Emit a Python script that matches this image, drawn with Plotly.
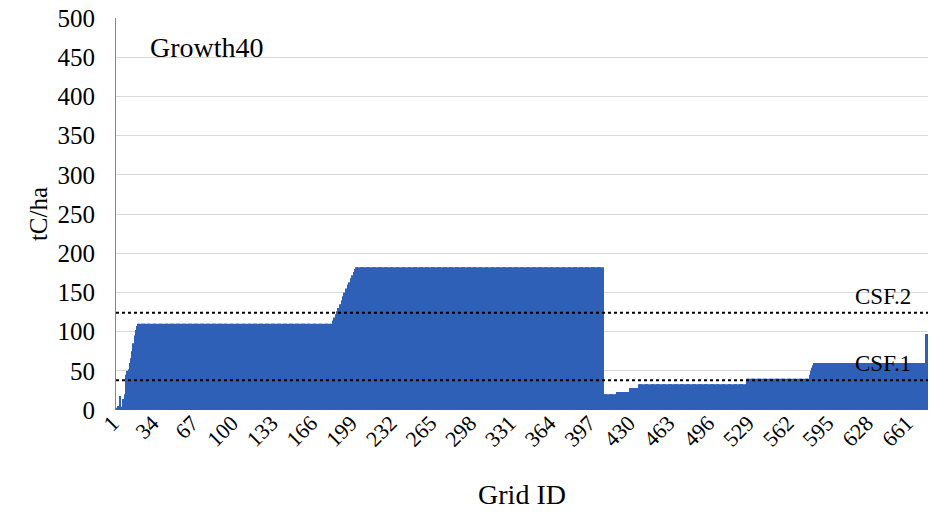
import plotly.graph_objects as go

# Run-length description of the carbon stock per grid cell (tC/ha)
seg_values = [3, 5, 2, 18, 4, 14, 6, 20, 45, 50, 52, 60, 66, 75, 85, 95, 102, 107,
              110,
              110, 15, 114, 118, 122, 126, 130, 15, 135, 140, 145, 150, 15, 155, 160, 163,
              15, 168, 172, 176, 180,
              182,
              20, 23, 28, 33, 40, 45, 50, 54, 57, 60, 97]
seg_counts = [1, 1, 1, 1, 1, 1, 1, 1, 1, 1, 1, 1, 1, 1, 1, 1, 1, 1,
              160,
              1, 1, 1, 1, 1, 1, 1, 1, 1, 1, 1, 1, 1, 1, 1, 1,
              1, 1, 1, 1, 1,
              206,
              11, 11, 7, 90, 52, 1, 1, 1, 1, 93, 2]

values = []
for v, c in zip(seg_values, seg_counts):
    values.extend([v] * c)
grid_ids = list(range(1, len(values) + 1))

tick_vals = list(range(1, len(values) + 1, 33))
y_ticks = [0, 50, 100, 150, 200, 250, 300, 350, 400, 450, 500]

csf_names = ["CSF.2", "CSF.1"]
csf_values = [124, 38]

SERIF = "Liberation Serif, Times New Roman, serif"

fig = go.Figure()
fig.add_trace(go.Bar(x=grid_ids, y=values, marker=dict(color="#2F60B8", line=dict(width=0)),
                     showlegend=False))

for name, v in zip(csf_names, csf_values):
    fig.add_shape(type="line", xref="paper", x0=0, x1=1, yref="y", y0=v, y1=v,
                  line=dict(color="black", width=2, dash="dot"), layer="above")
    fig.add_annotation(text=name, xref="paper", x=0.981, yref="y", y=v,
                       yanchor="bottom", xanchor="right", showarrow=False,
                       font=dict(family=SERIF, size=23, color="black"), yshift=2)

fig.add_annotation(text="Growth40", xref="paper", x=0.04, yref="paper", y=0.926,
                   xanchor="left", yanchor="middle", showarrow=False,
                   font=dict(family=SERIF, size=28, color="black"))

fig.update_layout(
    width=930, height=515,
    margin=dict(l=116, r=2, t=18, b=105, autoexpand=False),
    paper_bgcolor="white", plot_bgcolor="white",
    bargap=0.2,
    font=dict(family=SERIF, color="black"),
    xaxis=dict(range=[0.5, len(values) + 0.5], tickvals=tick_vals,
               ticktext=[str(t) for t in tick_vals], tickangle=-45,
               tickfont=dict(family=SERIF, size=22), showgrid=False, ticks="",
               showline=False, zeroline=False, automargin=False,
               ticklabelstandoff=-5, ticklabelshift=-4, ticklabeloverflow="allow",
               title=dict(text="Grid ID", font=dict(family=SERIF, size=28), standoff=33)),
    yaxis=dict(range=[0, 500], tickvals=y_ticks, tickfont=dict(family=SERIF, size=25),
               showgrid=True, gridcolor="#D9D9D9", gridwidth=1, zeroline=False,
               showline=True, linecolor="#888888", linewidth=1, ticks="",
               automargin=False, ticklabelstandoff=15, ticklabeloverflow="allow",
               title=dict(text="tC/ha", font=dict(family=SERIF, size=25), standoff=2)),
)

# remove the default page margin so the 930x515 figure fills the window exactly
fig.write_html("out.html", config={"displayModeBar": False},
               post_script="document.body.style.margin='0';document.body.style.overflow='hidden';")
